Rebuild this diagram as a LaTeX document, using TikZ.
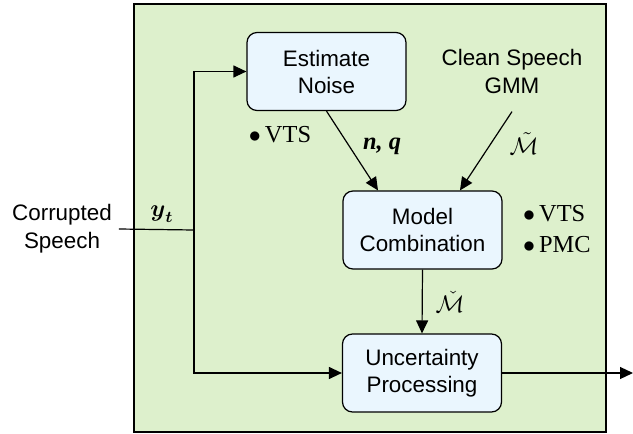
\documentclass[tikz,border=0pt]{standalone}
\usepackage{fontspec}
\setmainfont{Liberation Sans}
\newfontfamily\timesfont{Liberation Serif}
\usepackage{amsmath}
\usetikzlibrary{arrows.meta}
\definecolor{panelgreen}{RGB}{221,240,204}
\definecolor{boxblue}{RGB}{234,246,254}

\begin{document}
\begin{tikzpicture}[x=0.5pt,y=-0.5pt,
    block/.style={draw, rounded corners=5pt, fill=boxblue, line width=0.6pt,
      minimum width=79.5pt, minimum height=39pt, align=center,
      font=\fontsize{11.2}{13.5}\selectfont},
    plain/.style={align=center, font=\fontsize{11.2}{14}\selectfont},
    flow/.style={-{Triangle[length=6.5pt,width=6pt]}, line width=0.6pt},
    lbl/.style={font=\fontsize{12.2}{15.5}\timesfont}]
    \useasboundingbox (0,0) rectangle (633,434);

    % panel
    \draw[fill=panelgreen, line width=0.6pt] (134,4) rectangle (606,432);

    % blocks
    \node[block] (est) at (326.5,71.5) {Estimate\\Noise};
    \node[block] (comb) at (422.5,230) {Model\\Combination};
    \node[block] (unc) at (422,373) {Uncertainty\\Processing};
    \node[plain, inner ysep=9pt] (gmm) at (512,71) {Clean Speech\\GMM};
    \node[plain] (in) at (62,229) {Corrupted\\Speech};

    \coordinate (split) at (194,230);
    \coordinate (out) at (633,373);

    % connectors
    \draw[line width=0.6pt] (in.east) -- (split);
    \draw[flow] (split) |- (est.west);
    \draw[flow] (split) |- (unc.west);
    \draw[flow] (est.south) -- ([xshift=-22.25pt]comb.north);
    \draw[flow] (gmm.south) -- ([xshift=18.75pt]comb.north);
    \draw[flow] (comb.south) -- (unc.north);
    \draw[flow] (unc.east) -- (out);

    % labels
    \node[lbl] (yt) at (162,214) {\large$\boldsymbol{y}_{\boldsymbol{t}}$};
    \node[lbl] (nq) at (382,146) {\bfseries\itshape n, q};
    \node[lbl] (mt) at (524,144) {$\tilde{\mathcal{M}}$};
    \node[lbl] (mc) at (450,302) {$\check{\mathcal{M}}$};
    \node[lbl] (vts) at (280,135) {$\bullet$\,VTS};
    \node[lbl, align=left, anchor=west] (alg) at (516,229) {$\bullet$\,VTS\\$\bullet$\,PMC};
\end{tikzpicture}
\end{document}
